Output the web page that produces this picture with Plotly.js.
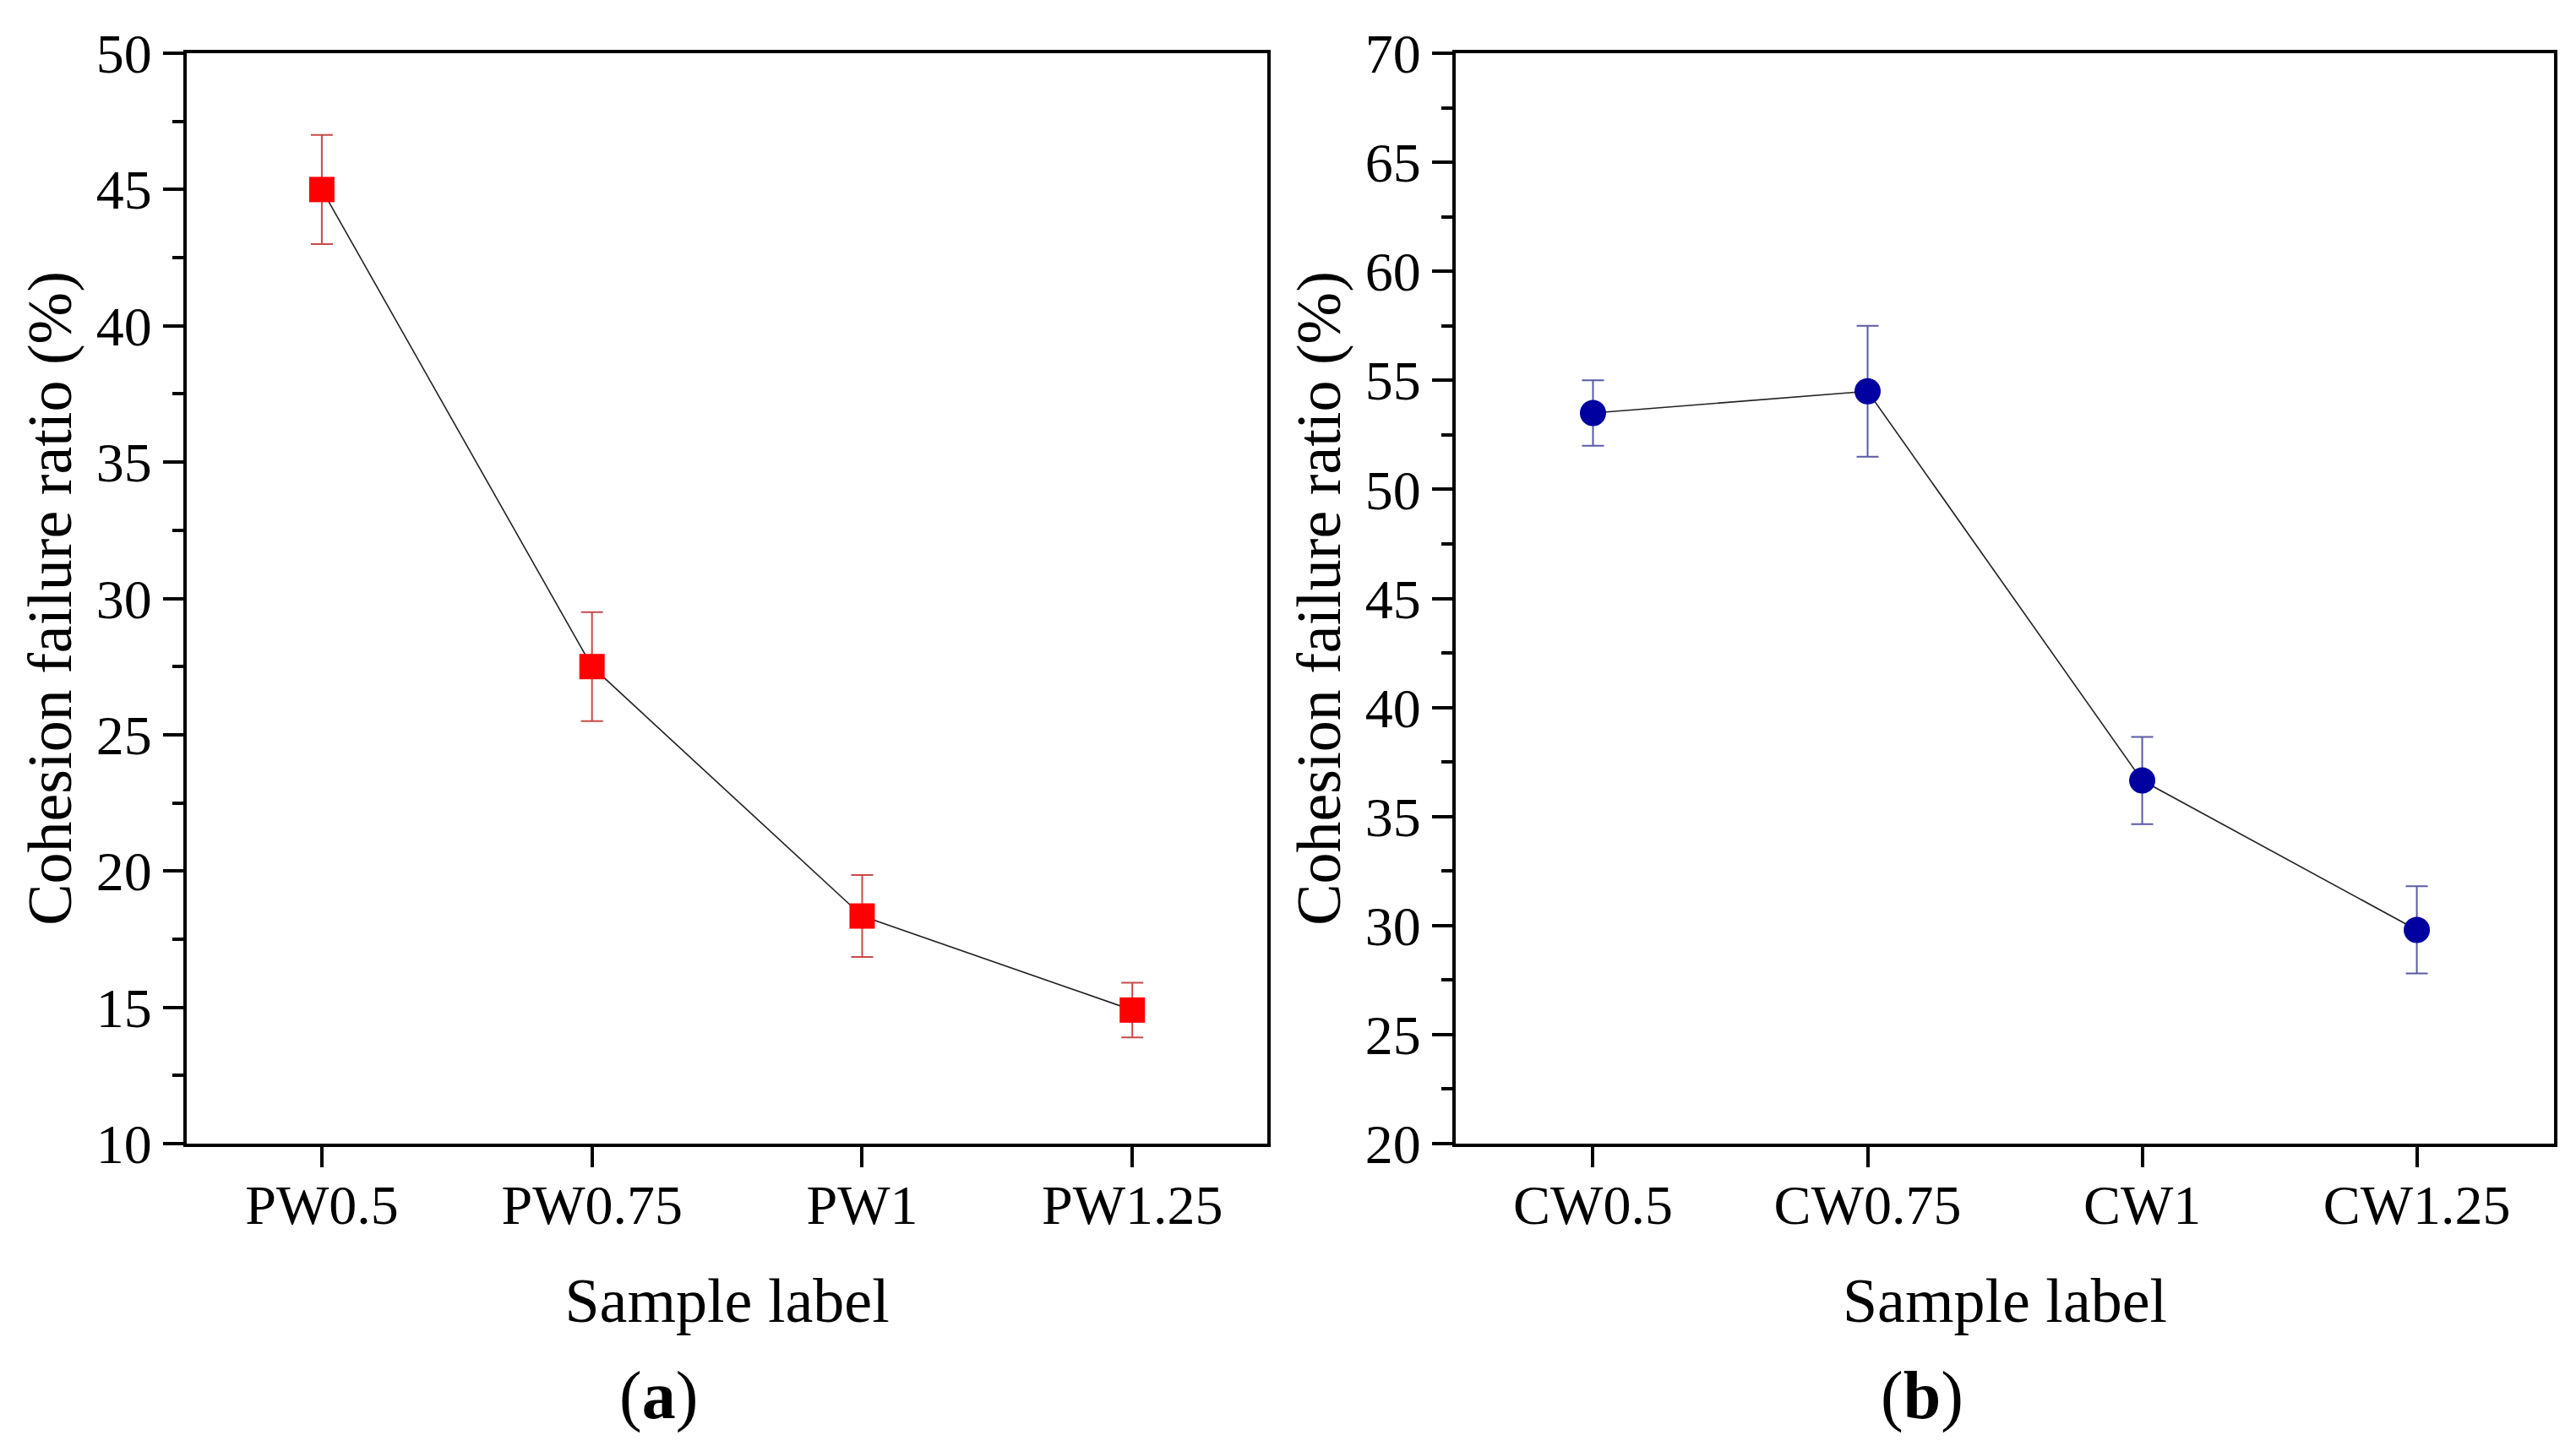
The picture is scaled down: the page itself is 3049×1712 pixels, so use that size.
<!DOCTYPE html>
<html>
<head>
<meta charset="utf-8">
<script src="https://cdn.plot.ly/plotly-3.0.1.min.js"></script>
<style>
  html, body { margin: 0; padding: 0; background: #ffffff; }
  #chart { width: 3049px; height: 1712px; }
</style>
</head>
<body>
<div id="chart"></div>
<script>
// Panel (a): PW samples
const pwLabels = ['PW0.5', 'PW0.75', 'PW1', 'PW1.25'];
const pwRatio = [45.0, 27.5, 18.35, 14.9];
const pwError = [2.0, 2.0, 1.5, 1.0];

// Panel (b): CW samples
const cwLabels = ['CW0.5', 'CW0.75', 'CW1', 'CW1.25'];
const cwRatio = [53.5, 54.5, 36.65, 29.8];
const cwError = [1.5, 3.0, 2.0, 2.0];

const yTitle = 'Cohesion failure ratio (%)';
const xTitle = 'Sample label';

const FONT = "'Liberation Serif', 'Times New Roman', serif";

function makeTrace(labels, values, errors, opts) {
    return {
        type: 'scatter',
        mode: 'lines+markers',
        x: labels,
        y: values,
        xaxis: opts.xaxis,
        yaxis: opts.yaxis,
        line: { color: 'rgba(10,10,10,0.9)', width: 1.6 },
        marker: { symbol: opts.symbol, size: opts.size, color: opts.color },
        error_y: {
            type: 'data',
            array: errors,
            visible: true,
            color: opts.errColor,
            thickness: 2,
            width: 13
        },
        showlegend: false,
        hoverinfo: 'x+y'
    };
}

function xAxis(domain, anchor) {
    return {
        domain: domain,
        anchor: anchor,
        type: 'category',
        range: [-0.5, 3.5],
        showline: true,
        mirror: true,
        linecolor: '#000',
        linewidth: 4,
        ticks: 'outside',
        ticklen: 24,
        tickwidth: 4,
        tickcolor: '#000',
        ticklabelstandoff: -12,
        showgrid: false,
        zeroline: false,
        tickfont: { family: FONT, size: 66, color: '#000' },
        title: { text: xTitle, font: { family: FONT, size: 74, color: '#000' }, standoff: 52 }
    };
}

function yAxis(range, anchor) {
    return {
        domain: [0.2091, 0.9632],
        anchor: anchor,
        range: range,
        dtick: 5,
        tick0: range[0],
        showline: true,
        mirror: true,
        linecolor: '#000',
        linewidth: 4,
        ticks: 'outside',
        ticklen: 24,
        tickwidth: 4,
        tickcolor: '#000',
        minor: { ticks: 'outside', ticklen: 13, tickwidth: 4, tickcolor: '#000', dtick: 2.5, showgrid: false },
        showgrid: false,
        zeroline: false,
        tickfont: { family: FONT, size: 66, color: '#000' },
        title: { text: yTitle, font: { family: FONT, size: 74, color: '#000' }, standoff: 6 }
    };
}

const traces = [
    makeTrace(pwLabels, pwRatio, pwError, {
        xaxis: 'x', yaxis: 'y', symbol: 'square', size: 30,
        color: '#ff0000', errColor: '#c84a4a'
    }),
    makeTrace(cwLabels, cwRatio, cwError, {
        xaxis: 'x2', yaxis: 'y2', symbol: 'circle', size: 31,
        color: '#0000a0', errColor: '#5a5aa6'
    })
];

const layout = {
    width: 3049,
    height: 1712,
    margin: { t: 0, r: 0, b: 0, l: 0 },
    paper_bgcolor: '#ffffff',
    plot_bgcolor: '#ffffff',
    font: { family: FONT, color: '#000' },
    xaxis: xAxis([0.0725, 0.4920], 'y'),
    yaxis: yAxis([10, 50], 'x'),
    xaxis2: xAxis([0.5651, 0.9915], 'y2'),
    yaxis2: yAxis([20, 70], 'x2'),
    annotations: [
        { text: '(<b>a</b>)', xref: 'paper', yref: 'paper', x: 779 / 3049, y: 1 - 1652 / 1712,
          xanchor: 'center', yanchor: 'middle', showarrow: false,
          font: { family: FONT, size: 80, color: '#000' } },
        { text: '(<b>b</b>)', xref: 'paper', yref: 'paper', x: 2275 / 3049, y: 1 - 1652 / 1712,
          xanchor: 'center', yanchor: 'middle', showarrow: false,
          font: { family: FONT, size: 80, color: '#000' } }
    ]
};

Plotly.newPlot('chart', traces, layout, { displayModeBar: false, staticPlot: true });
</script>
</body>
</html>
